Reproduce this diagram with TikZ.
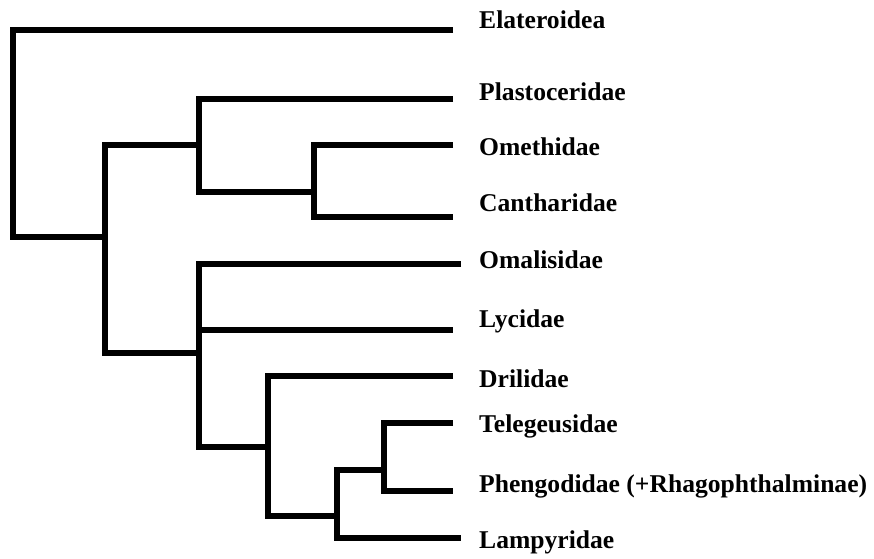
\documentclass[tikz,border=0pt]{standalone}
\usepackage{fontspec}
\setmainfont{Liberation Serif}
\begin{document}
\begin{tikzpicture}[x=1pt,y=-1pt,
  branch/.style={line width=5.5pt,line join=miter,line cap=butt},
  taxon/.style={anchor=base west,inner sep=0pt,font=\fontsize{25.6}{30}\selectfont\bfseries}]
\useasboundingbox (0,0) rectangle (874,558);
% leaf tips
\coordinate (tElat) at (453,30);
\coordinate (tPlas) at (453,99);
\coordinate (tOmet) at (453,145);
\coordinate (tCant) at (453,217);
\coordinate (tOmal) at (461,264);
\coordinate (tLyci) at (453,330);
\coordinate (tDril) at (453,376);
\coordinate (tTele) at (453,423);
\coordinate (tPhen) at (453,491);
\coordinate (tLamp) at (461,538);
% internal nodes (x, join y)
\coordinate (root) at (13,130);
\coordinate (nA) at (105,237);
\coordinate (nB) at (199,145);
\coordinate (nC) at (314,192);
\coordinate (nD) at (199,353);
\coordinate (nE) at (268,447);
\coordinate (nF) at (337,516);
\coordinate (nG) at (384,470);
% branches
\draw[branch] (tElat) -| (root) |- (nA);
\draw[branch] (nB) -| (nA) |- (nD);
\draw[branch] (tPlas) -| (nB) |- (nC);
\draw[branch] (tOmet) -| (nC) |- (tCant);
\draw[branch] (tOmal) -| (nD) |- (nE);
\draw[branch] (nD |- tLyci) -- (tLyci);
\draw[branch] (tDril) -| (nE) |- (nF);
\draw[branch] (nG) -| (nF) |- (tLamp);
\draw[branch] (tTele) -| (nG) |- (tPhen);
% labels
\node[taxon] (lElat) at (479,28) {Elateroidea};
\node[taxon] (lPlas) at (479,100) {Plastoceridae};
\node[taxon] (lOmet) at (479,155) {Omethidae};
\node[taxon] (lCant) at (479,211) {Cantharidae};
\node[taxon] (lOmal) at (479,268) {Omalisidae};
\node[taxon] (lLyci) at (479,327) {Lycidae};
\node[taxon] (lDril) at (479,387) {Drilidae};
\node[taxon] (lTele) at (479,432) {Telegeusidae};
\node[taxon] (lPhen) at (479,492) {Phengodidae (+Rhagophthalminae)};
\node[taxon] (lLamp) at (479,548) {Lampyridae};
\end{tikzpicture}
\end{document}
